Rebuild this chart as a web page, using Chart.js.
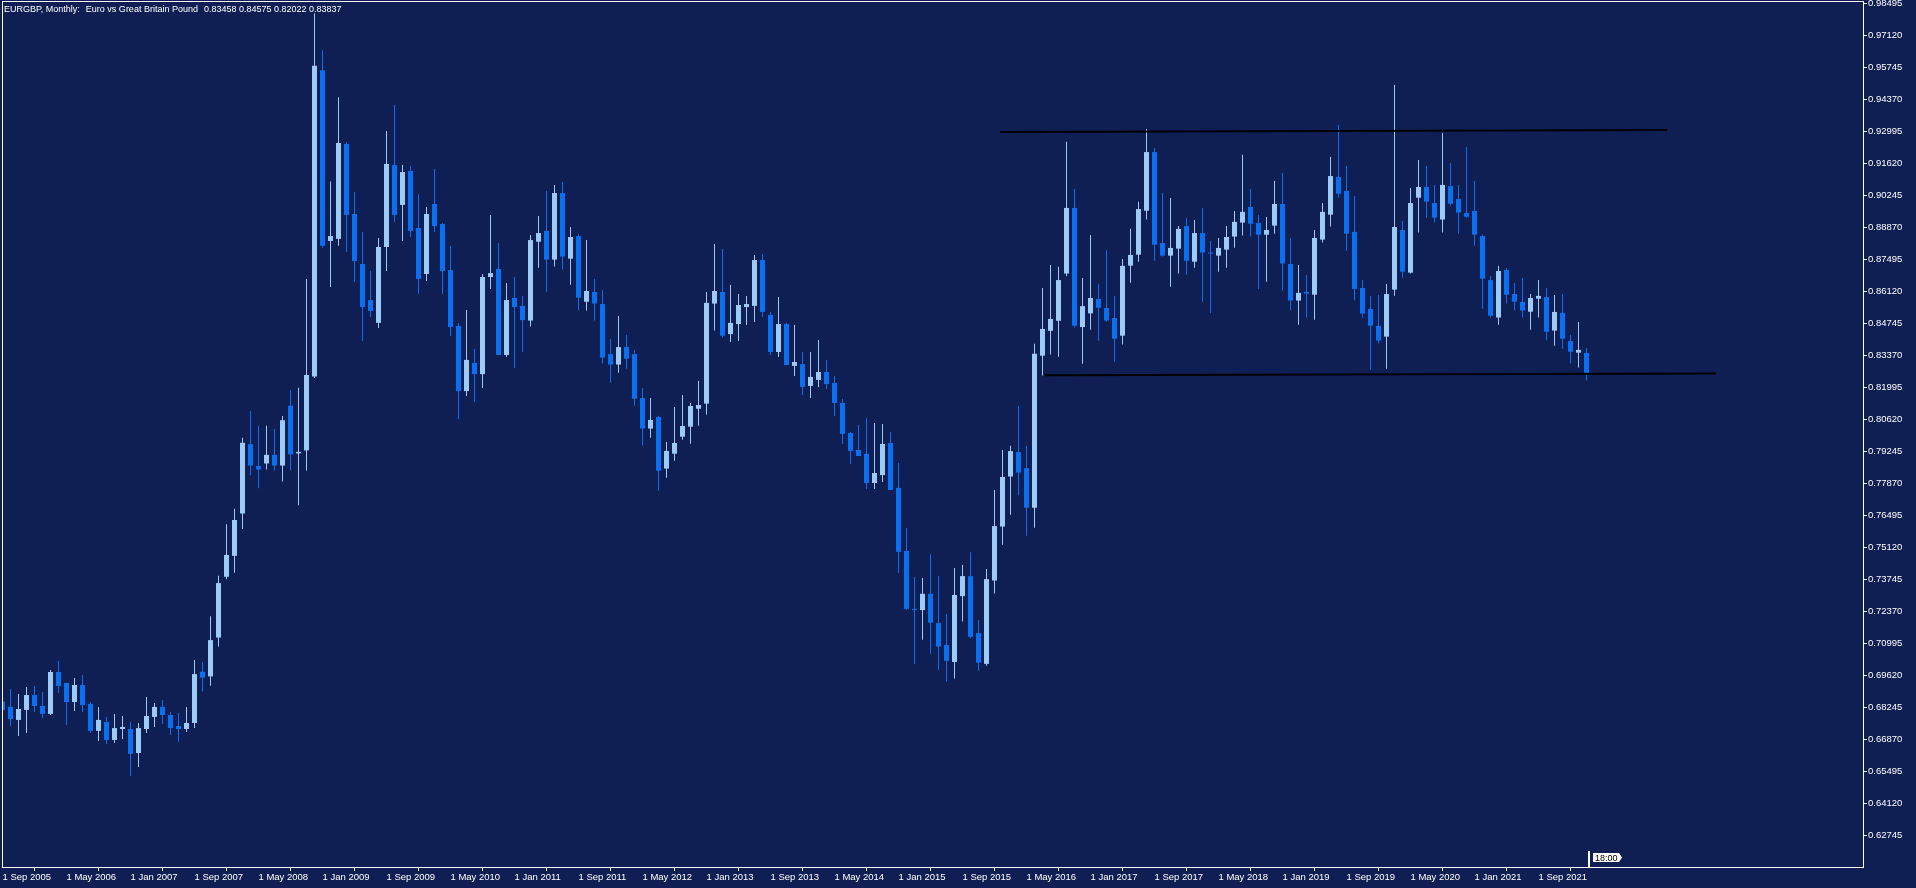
<!DOCTYPE html>
<html>
<head>
<meta charset="utf-8">
<script src="https://cdn.jsdelivr.net/npm/chart.js@4/dist/chart.umd.min.js"></script>
<style>
html, body { margin: 0; padding: 0; background: #101f53; overflow: hidden; }
#wrap { width: 1916px; height: 888px; }
</style>
</head>
<body>
<div id="wrap"><canvas id="chart"></canvas></div>
<script>
// EURGBP monthly candles, Sep 2005 .. Mar 2022 (index 0 = Sep 2005)
var opens = [
  0.6848,0.6825,0.6769,0.6812,0.6876,0.6829,0.6795,0.6975,0.6928,0.6846,
  0.6919,0.6838,0.6722,0.6760,0.6683,0.6730,0.6730,0.6627,0.6730,0.6782,
  0.6825,0.6790,0.6743,0.6730,0.6756,0.6976,0.6956,0.7123,0.7384,0.7474,
  0.7656,0.7954,0.7860,0.7871,0.7908,0.7862,0.8119,0.7914,0.7927,0.8245,
  0.9561,0.8827,0.8836,0.9244,0.8943,0.8728,0.8573,0.8475,0.8801,0.9153,
  0.8982,0.9128,0.8883,0.8685,0.8986,0.8900,0.8702,0.8462,0.8182,0.8303,
  0.8255,0.8672,0.8707,0.8337,0.8582,0.8548,0.8485,0.8824,0.8870,0.8747,
  0.9033,0.8751,0.8848,0.8566,0.8608,0.8556,0.8341,0.8296,0.8371,0.8341,
  0.8152,0.8021,0.8071,0.7849,0.7913,0.7986,0.8029,0.8106,0.8128,0.8558,
  0.8608,0.8427,0.8470,0.8543,0.8548,0.8745,0.8509,0.8350,0.8470,0.8290,
  0.8298,0.8204,0.8230,0.8264,0.8217,0.8131,0.8002,0.7929,0.7912,0.7787,
  0.7821,0.7959,0.7766,0.7495,0.7246,0.7241,0.7311,0.7185,0.7091,0.7018,
  0.7301,0.7387,0.7142,0.7010,0.7368,0.7600,0.7815,0.7920,0.7851,0.7681,
  0.8334,0.8441,0.8484,0.8687,0.8969,0.8457,0.8516,0.8578,0.8539,0.8496,
  0.8420,0.8721,0.8768,0.8957,0.9209,0.8818,0.8764,0.8794,0.8891,0.8738,
  0.8861,0.8775,0.8764,0.8790,0.8846,0.8906,0.8973,0.8904,0.8854,0.8893,
  0.8986,0.8728,0.8571,0.8608,0.8596,0.8833,0.8940,0.9102,0.9042,0.8866,
  0.8625,0.8535,0.8462,0.8416,0.8618,0.8874,0.8691,0.9013,0.9059,0.8990,
  0.8919,0.9063,0.9007,0.8947,0.8956,0.8848,0.8659,0.8498,0.8702,0.8599,
  0.8565,0.8523,0.8579,0.8586,0.8442,0.8518,0.8397,0.8347,0.8346
];
var highs = [
  0.6870,0.6902,0.6880,0.6911,0.6915,0.6889,0.6984,0.7022,0.6928,0.6949,
  0.6962,0.6846,0.6825,0.6782,0.6795,0.6786,0.6760,0.6756,0.6868,0.6842,
  0.6855,0.6803,0.6799,0.6825,0.7027,0.7018,0.7215,0.7388,0.7610,0.7676,
  0.7981,0.8096,0.8033,0.8033,0.8019,0.8075,0.8186,0.8196,0.8664,0.9805,
  0.9648,0.9082,0.9445,0.9252,0.9037,0.8866,0.8698,0.8840,0.9300,0.9411,
  0.9153,0.9149,0.9029,0.8973,0.9136,0.8904,0.8805,0.8475,0.8530,0.8363,
  0.8685,0.8939,0.8818,0.8646,0.8672,0.8591,0.8853,0.8934,0.9042,0.9068,
  0.9080,0.8887,0.8857,0.8831,0.8664,0.8616,0.8406,0.8505,0.8423,0.8359,
  0.8195,0.8152,0.8076,0.7963,0.8114,0.8165,0.8131,0.8225,0.8608,0.8814,
  0.8793,0.8638,0.8599,0.8591,0.8767,0.8771,0.8522,0.8586,0.8475,0.8466,
  0.8350,0.8350,0.8402,0.8316,0.8247,0.8148,0.8006,0.8036,0.8066,0.8045,
  0.8041,0.8006,0.7873,0.7594,0.7383,0.7379,0.7482,0.7387,0.7223,0.7422,
  0.7435,0.7490,0.7198,0.7417,0.7757,0.7929,0.7947,0.8118,0.7947,0.8385,
  0.8625,0.8724,0.8716,0.9253,0.9050,0.8668,0.8853,0.8643,0.8788,0.8591,
  0.8750,0.8879,0.8995,0.9308,0.9227,0.9033,0.9012,0.8891,0.8926,0.8917,
  0.8969,0.8827,0.8840,0.8891,0.8956,0.9198,0.9050,0.8939,0.8930,0.9085,
  0.9119,0.8840,0.8724,0.8681,0.8874,0.8990,0.9188,0.9325,0.9149,0.9020,
  0.8659,0.8591,0.8595,0.8642,0.9497,0.8913,0.9055,0.9175,0.9149,0.9068,
  0.9291,0.9162,0.9068,0.9231,0.9085,0.8854,0.8677,0.8720,0.8711,0.8646,
  0.8668,0.8599,0.8659,0.8625,0.8595,0.8599,0.8423,0.8479,0.8367
];
var lows = [
  0.6795,0.6743,0.6700,0.6713,0.6803,0.6777,0.6790,0.6885,0.6747,0.6807,
  0.6803,0.6713,0.6679,0.6666,0.6670,0.6687,0.6528,0.6567,0.6713,0.6739,
  0.6752,0.6704,0.6674,0.6717,0.6734,0.6891,0.6916,0.7085,0.7373,0.7401,
  0.7589,0.7820,0.7764,0.7845,0.7841,0.7793,0.7841,0.7691,0.7841,0.8238,
  0.8798,0.8629,0.8807,0.8780,0.8651,0.8397,0.8500,0.8453,0.8698,0.8909,
  0.8827,0.8844,0.8599,0.8655,0.8866,0.8599,0.8419,0.8062,0.8161,0.8135,
  0.8195,0.8621,0.8337,0.8328,0.8281,0.8350,0.8459,0.8712,0.8609,0.8717,
  0.8704,0.8639,0.8528,0.8528,0.8485,0.8300,0.8218,0.8261,0.8278,0.8119,
  0.7948,0.7982,0.7754,0.7810,0.7883,0.7973,0.7956,0.8033,0.8081,0.8442,
  0.8412,0.8393,0.8397,0.8466,0.8479,0.8500,0.8337,0.8328,0.8294,0.8247,
  0.8165,0.8152,0.8200,0.8191,0.8075,0.7955,0.7869,0.7903,0.7761,0.7761,
  0.7791,0.7757,0.7400,0.7241,0.7009,0.7114,0.7053,0.6985,0.6934,0.6947,
  0.7192,0.7119,0.6980,0.7002,0.7312,0.7522,0.7651,0.7734,0.7560,0.7595,
  0.8249,0.8339,0.8330,0.8675,0.8455,0.8299,0.8446,0.8398,0.8480,0.8308,
  0.8382,0.8648,0.8738,0.8919,0.8742,0.8760,0.8630,0.8687,0.8682,0.8712,
  0.8565,0.8518,0.8695,0.8712,0.8798,0.8850,0.8846,0.8621,0.8652,0.8858,
  0.8614,0.8528,0.8467,0.8498,0.8489,0.8820,0.8889,0.9013,0.8785,0.8571,
  0.8498,0.8274,0.8386,0.8278,0.8592,0.8669,0.8687,0.8863,0.8927,0.8906,
  0.8863,0.8979,0.8858,0.8927,0.8807,0.8536,0.8498,0.8467,0.8558,0.8528,
  0.8498,0.8446,0.8498,0.8399,0.8377,0.8364,0.8300,0.8283,0.8227
];
var closes = [
  0.6812,0.6773,0.6816,0.6876,0.6829,0.6795,0.6975,0.6915,0.6846,0.6919,
  0.6833,0.6722,0.6769,0.6683,0.6734,0.6739,0.6623,0.6734,0.6786,0.6825,
  0.6790,0.6734,0.6730,0.6756,0.6966,0.6951,0.7112,0.7357,0.7478,0.7628,
  0.7960,0.7862,0.7845,0.7908,0.7862,0.8057,0.7910,0.7921,0.8251,0.9580,
  0.8806,0.8848,0.9248,0.8939,0.8741,0.8543,0.8526,0.8801,0.9158,0.8939,
  0.9123,0.8870,0.8664,0.8943,0.8891,0.8698,0.8457,0.8182,0.8316,0.8255,
  0.8672,0.8689,0.8337,0.8573,0.8543,0.8487,0.8831,0.8861,0.8747,0.9033,
  0.8760,0.8844,0.8583,0.8612,0.8558,0.8326,0.8296,0.8371,0.8321,0.8149,
  0.8021,0.8058,0.7840,0.7925,0.7959,0.8032,0.8118,0.8122,0.8561,0.8612,
  0.8420,0.8475,0.8552,0.8556,0.8745,0.8522,0.8350,0.8470,0.8294,0.8307,
  0.8200,0.8243,0.8264,0.8212,0.8131,0.7998,0.7925,0.7903,0.7787,0.7830,
  0.7955,0.7757,0.7491,0.7246,0.7241,0.7311,0.7187,0.7084,0.7023,0.7306,
  0.7387,0.7126,0.7015,0.7374,0.7602,0.7813,0.7924,0.7832,0.7681,0.8342,
  0.8449,0.8492,0.8659,0.8969,0.8463,0.8547,0.8582,0.8540,0.8485,0.8407,
  0.8720,0.8767,0.8964,0.9209,0.8811,0.8764,0.8797,0.8879,0.8742,0.8861,
  0.8777,0.8773,0.8797,0.8844,0.8909,0.8952,0.8901,0.8854,0.8874,0.8986,
  0.8730,0.8571,0.8604,0.8601,0.8840,0.8952,0.9106,0.9030,0.8858,0.8621,
  0.8515,0.8463,0.8399,0.8599,0.8887,0.8695,0.8990,0.9059,0.8996,0.8927,
  0.9068,0.8987,0.8949,0.8931,0.8854,0.8665,0.8506,0.8698,0.8596,0.8566,
  0.8528,0.8582,0.8591,0.8437,0.8522,0.8407,0.8351,0.8359,0.8253
];

// time axis labels, one every 8 months starting at index 0
var xTickLabels = ["1 Sep 2005","1 May 2006","1 Jan 2007","1 Sep 2007","1 May 2008",
  "1 Jan 2009","1 Sep 2009","1 May 2010","1 Jan 2011","1 Sep 2011","1 May 2012",
  "1 Jan 2013","1 Sep 2013","1 May 2014","1 Jan 2015","1 Sep 2015","1 May 2016",
  "1 Jan 2017","1 Sep 2017","1 May 2018","1 Jan 2019","1 Sep 2019","1 May 2020",
  "1 Jan 2021","1 Sep 2021"];
var xTickStep = 8;

var yTickValues = [0.98495,0.97120,0.95745,0.94370,0.92995,0.91620,0.90245,0.88870,
  0.87495,0.86120,0.84745,0.83370,0.81995,0.80620,0.79245,0.77870,0.76495,0.75120,
  0.73745,0.72370,0.70995,0.69620,0.68245,0.66870,0.65495,0.64120,0.62745];

// hand drawn trend lines (x = month index, y = price)
var resistanceLine = [{ x: 124.7, y: 0.9295 }, { x: 208.1, y: 0.9304 }];
var supportLine = [{ x: 130.3, y: 0.8250 }, { x: 214.2, y: 0.8258 }];

var headerParts = ["EURGBP, Monthly:", "Euro vs Great Britain Pound", "0.83458 0.84575 0.82022 0.83837"];
var timerText = "18:00";

var bullColor = "#9ccbf8";
var bearColor = "#0a6ff0";
var labelFont = { family: "Liberation Sans", size: 9.5 };

var bodyData = opens.map(function (o, i) { return { x: i, y: [o, closes[i]] }; });
var wickData = opens.map(function (o, i) { return { x: i, y: [lows[i], highs[i]] }; });

function candleColor(ctx) {
  var i = ctx.dataIndex;
  return closes[i] >= opens[i] ? bullColor : bearColor;
}

var mtDecor = {
  id: "mtDecor",
  afterDraw: function (chart) {
    var c = chart.ctx, a = chart.chartArea;
    c.save();
    c.strokeStyle = "#ffffff";
    c.lineWidth = 1;
    c.strokeRect(a.left + 0.5, a.top + 0.5, a.right - a.left, a.bottom - a.top);

    // header line, parts separated by a double space
    c.fillStyle = "#ffffff";
    c.font = "9px 'Liberation Sans'";
    c.textBaseline = "alphabetic";
    var tx = 4;
    headerParts.forEach(function (t) {
      c.fillText(t, tx, 12);
      tx += c.measureText(t).width + 6;
    });

    // last bar marker with timer label
    var lx = Math.round(chart.scales.x.getPixelForValue(opens.length - 1)) + 1;
    c.fillRect(lx, a.bottom - 16, 2, 16);
    c.beginPath();
    c.moveTo(lx + 5, a.bottom - 14);
    c.lineTo(lx + 31, a.bottom - 14);
    c.lineTo(lx + 34, a.bottom - 9.5);
    c.lineTo(lx + 31, a.bottom - 5);
    c.lineTo(lx + 5, a.bottom - 5);
    c.closePath();
    c.fill();
    c.fillStyle = "#000000";
    c.fillText(timerText, lx + 7, a.bottom - 6);
    c.restore();
  }
};

new Chart("chart", {
  type: "bar",
  data: {
    datasets: [
      { type: "line", data: resistanceLine, borderColor: "#000000", borderWidth: 2, pointRadius: 0, order: 0 },
      { type: "line", data: supportLine, borderColor: "#000000", borderWidth: 2, pointRadius: 0, order: 0 },
      { data: bodyData, backgroundColor: candleColor, barThickness: 5, maxBarThickness: 5,
        grouped: false, minBarLength: 1, borderWidth: 0, inflateAmount: 0, order: 1 },
      { data: wickData, backgroundColor: candleColor, barThickness: 1, maxBarThickness: 1,
        grouped: false, borderWidth: 0, inflateAmount: 0, order: 2 }
    ]
  },
  options: {
    responsive: true,
    maintainAspectRatio: false,
    animation: false,
    events: [],
    layout: { padding: { left: 2, top: 1, right: 0, bottom: 0 } },
    plugins: { legend: { display: false }, tooltip: { enabled: false } },
    scales: {
      x: {
        type: "linear",
        min: -0.0625,
        max: 232.5625,
        offset: false,
        afterFit: function (s) {
          s.height = 21;
          s.paddingLeft = 0;
          s.paddingRight = 0;
        },
        afterBuildTicks: function (s) {
          s.ticks = xTickLabels.map(function (t, i) { return { value: i * xTickStep }; });
        },
        ticks: {
          color: "#ffffff", font: labelFont, padding: 1, align: "start",
          maxRotation: 0, autoSkip: false,
          callback: function (v, i) { return xTickLabels[i]; }
        },
        grid: { drawOnChartArea: false, tickLength: 4, color: "#ffffff" },
        border: { display: false }
      },
      y: {
        position: "right",
        min: 0.61371,
        max: 0.98581,
        afterFit: function (s) {
          s.width = 53;
          s.paddingTop = 0;
          s.paddingBottom = 0;
        },
        afterBuildTicks: function (s) {
          s.ticks = yTickValues.map(function (v) { return { value: v }; });
        },
        ticks: {
          color: "#ffffff", font: labelFont, padding: 1, autoSkip: false,
          callback: function (v) { return v.toFixed(5); }
        },
        grid: { drawOnChartArea: false, tickLength: 4, color: "#ffffff" },
        border: { display: false }
      }
    }
  },
  plugins: [mtDecor]
});
</script>
</body>
</html>
